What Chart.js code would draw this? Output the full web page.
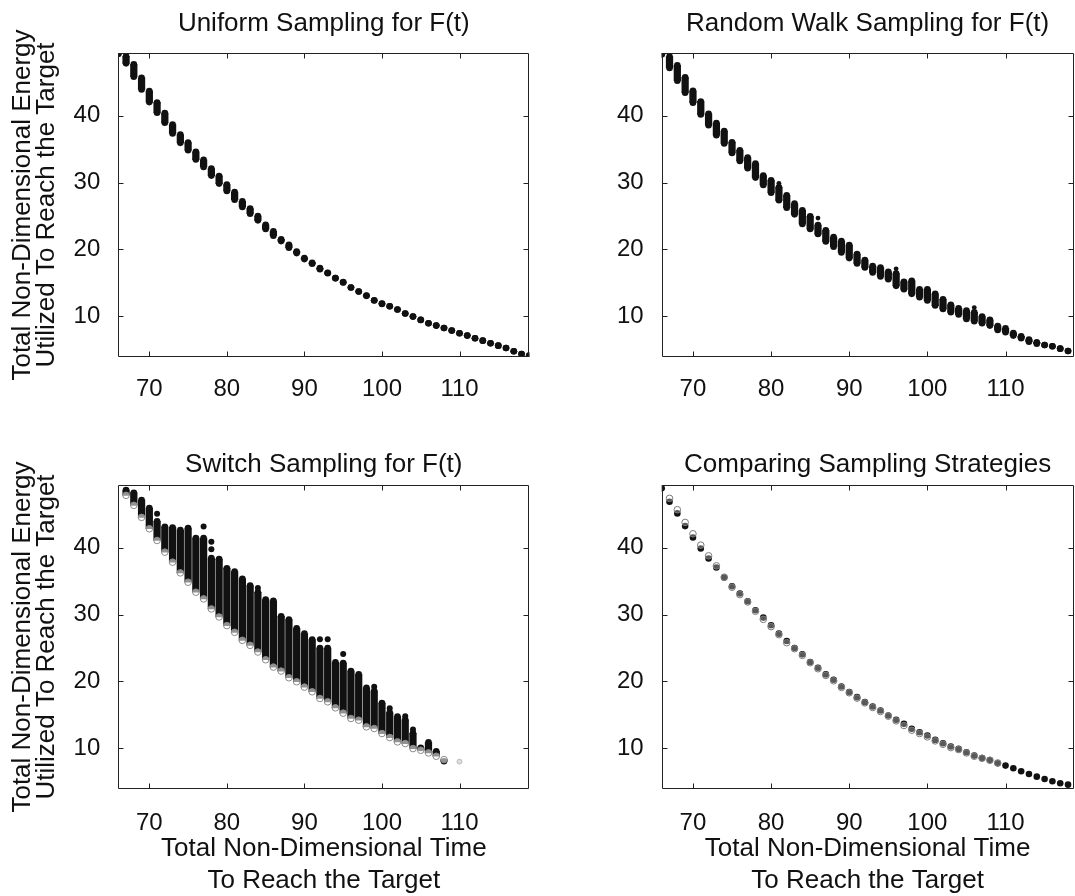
<!DOCTYPE html>
<html lang="en">
<head>
  <meta charset="UTF-8">
  <meta name="viewport" content="width=device-width, initial-scale=1.0">
  <title>Sampling Strategies for F(t)</title>
  <script src="https://cdn.jsdelivr.net/npm/chart.js"></script>
  <style>
    html, body {
      margin: 0;
      padding: 0;
      background: #fff;
      overflow: hidden;
    }
    .panel {
      position: absolute;
    }
  </style>
</head>
<body>
  <div class="panel" style="left:0;top:0"><canvas id="uniformChart" width="545" height="420"></canvas></div>
  <div class="panel" style="left:545px;top:0"><canvas id="randomChart" width="545" height="420"></canvas></div>
  <div class="panel" style="left:0;top:430px"><canvas id="switchChart" width="545" height="468"></canvas></div>
  <div class="panel" style="left:545px;top:430px"><canvas id="compareChart" width="545" height="468"></canvas></div>

  <script>
    // axis ticks (shared by all four panels)
    const timeTicks = [70, 80, 90, 100, 110];
    const energyTicks = [10, 20, 30, 40];

    // Uniform sampling: each time column spans bottom..top energy
    const uniformX = [66, 67, 68, 69, 70, 71, 72, 73, 74, 75, 76, 77, 78, 79, 80, 81, 82, 83, 84, 85, 86, 87, 88, 89, 90,
      91, 92, 93, 94, 95, 96, 97, 98, 99, 100, 101, 102, 103, 104, 105, 106, 107, 108, 109, 110, 111, 112, 113, 114, 115,
      116, 117, 118, 119];
    const uniformTop = [49.3, 48.9, 47.7, 45.7, 43.7, 42.0, 40.4, 38.7, 37.2, 36.0, 34.6, 33.4, 32.1, 31.0, 29.7, 28.6,
      27.2, 26.1, 25.0, 23.7, 22.7, 21.5, 20.7, 19.7, 18.7, 18.0, 17.2, 16.5, 15.7, 15.1, 14.3, 13.7, 13.1, 12.4, 11.9,
      11.5, 11.0, 10.4, 9.95, 9.45, 8.95, 8.6, 8.25, 7.85, 7.45, 7.1, 6.7, 6.35, 5.95, 5.6, 5.25, 4.75, 4.35, 4.1];
    const uniformBottom = [49.3, 47.85, 45.85, 43.95, 42.05, 40.45, 38.95, 37.35, 35.95, 34.85, 33.45, 32.35, 31.05,
      29.85, 28.75, 27.45, 26.35, 25.35, 24.35, 23.05, 22.05, 21.25, 20.25, 19.45, 18.55, 17.85, 17.05, 16.45, 15.7,
      15.05, 14.3, 13.7, 13.05, 12.35, 11.85, 11.5, 11.0, 10.4, 9.95, 9.45, 8.95, 8.6, 8.25, 7.85, 7.45, 7.1, 6.7, 6.35,
      5.95, 5.6, 5.25, 4.75, 4.35, 4.1];

    // Random walk sampling
    const randomX = [66, 67, 68, 69, 70, 71, 72, 73, 74, 75, 76, 77, 78, 79, 80, 81, 82, 83, 84, 85, 86, 87, 88, 89, 90,
      91, 92, 93, 94, 95, 96, 97, 98, 99, 100, 101, 102, 103, 104, 105, 106, 107, 108, 109, 110, 111, 112, 113, 114, 115,
      116, 117, 118];
    const randomTop = [49.2, 48.85, 47.55, 45.75, 43.75, 42.15, 40.3, 38.9, 37.7, 36.05, 34.85, 33.75, 32.85, 31.05,
      30.35, 29.3, 28.1, 26.85, 25.85, 24.95, 23.65, 22.85, 21.85, 21.25, 20.65, 19.3, 18.4, 17.5, 17.3, 16.65, 16.4,
      15.15, 15.3, 14.05, 14.05, 13.35, 12.55, 11.7, 11.2, 10.85, 10.6, 9.95, 9.45, 8.55, 8.2, 7.5, 7.0, 6.5, 6.1, 5.7,
      5.5, 5.15, 4.8];
    const randomBottom = [49.2, 47.15, 45.25, 43.45, 41.95, 40.2, 38.6, 37.1, 35.85, 34.45, 33.25, 32.15, 30.75, 29.65,
      28.5, 27.35, 26.25, 25.25, 23.8, 23.05, 22.3, 21.2, 20.4, 19.55, 18.7, 17.9, 17.3, 16.55, 15.95, 15.55, 14.55,
      14.05, 13.35, 12.85, 12.35, 11.6, 11.1, 10.6, 10.25, 9.6, 9.25, 8.95, 8.6, 7.95, 7.6, 7.1, 6.7, 6.2, 5.9, 5.7, 5.5,
      5.15, 4.8];
    const randomOutX = [81, 86, 96, 106];
    const randomOutY = [29.9, 24.7, 17.1, 11.3];

    // Switch sampling: black column top, grey circle at the bottom
    const switchX = [67, 68, 69, 70, 71, 72, 73, 74, 75, 76, 77, 78, 79, 80, 81, 82, 83, 84, 85, 86, 87, 88, 89, 90, 91,
      92, 93, 94, 95, 96, 97, 98, 99, 100, 101, 102, 103, 104, 105, 106, 107, 108];
    const switchTop = [48.65, 48.25, 47.15, 45.95, 43.95, 43.15, 43.05, 42.65, 42.95, 41.45, 41.45, 38.45, 38.3, 36.95,
      36.45, 35.35, 34.35, 33.35, 32.25, 32.05, 29.75, 29.25, 27.95, 27.15, 26.25, 25.0, 25.0, 22.85, 22.75, 21.55,
      21.05, 19.05, 18.55, 16.75, 15.35, 14.75, 14.25, 12.25, 10.05, 10.9, 9.55, 8.05];
    const switchBottom = [47.85, 46.35, 44.55, 42.85, 41.1, 39.35, 37.85, 36.25, 34.85, 33.35, 32.35, 30.85, 29.65,
      28.35, 27.35, 26.15, 25.4, 24.4, 23.25, 22.15, 21.55, 20.55, 19.95, 19.15, 18.45, 17.45, 16.95, 16.05, 15.25,
      14.45, 14.2, 13.2, 12.95, 12.2, 11.6, 10.95, 10.7, 9.95, 9.7, 9.3, 8.8, 8.3];
    const switchOutX = [71, 77, 78, 78, 84, 92, 93, 95, 99, 101, 103, 104];
    const switchOutY = [45.1, 43.2, 40.9, 39.8, 34.0, 26.3, 26.3, 24.1, 19.2, 16.0, 14.8, 12.8];
    const switchStrayX = [110];
    const switchStrayY = [8.0];

    // Comparison of strategies
    const compareX = [66, 67, 68, 69, 70, 71, 72, 73, 74, 75, 76, 77, 78, 79, 80, 81, 82, 83, 84, 85, 86, 87, 88, 89, 90,
      91, 92, 93, 94, 95, 96, 97, 98, 99, 100, 101, 102, 103, 104, 105, 106, 107, 108, 109, 110, 111, 112, 113, 114, 115,
      116, 117, 118];
    const compareBlack = [48.9, 46.9, 45.15, 43.25, 41.55, 39.9, 38.4, 37.05, 35.55, 34.25, 33.15, 32.0, 30.65, 29.55,
      28.4, 27.15, 26.05, 25.0, 24.05, 22.9, 22.05, 21.05, 20.25, 19.25, 18.4, 17.65, 16.9, 16.25, 15.65, 14.9, 14.25,
      13.65, 12.9, 12.4, 11.9, 11.25, 10.75, 10.25, 9.9, 9.4, 8.9, 8.55, 8.25, 7.75, 7.4, 7.0, 6.55, 6.15, 5.75, 5.4,
      5.05, 4.75, 4.55];
    const compareGrayX = [67, 68, 69, 70, 71, 72, 73, 74, 75, 76, 77, 78, 79, 80, 81, 82, 83, 84, 85, 86, 87, 88, 89, 90,
      91, 92, 93, 94, 95, 96, 97, 98, 99, 100, 101, 102, 103, 104, 105, 106, 107, 108, 109];
    const compareGray = [47.4, 45.7, 43.8, 42.1, 40.4, 38.8, 37.3, 35.6, 34.1, 33.0, 31.9, 30.5, 29.3, 28.2, 27.0, 25.8,
      24.9, 23.9, 22.8, 21.9, 20.9, 20.1, 19.1, 18.3, 17.5, 16.8, 16.1, 15.5, 14.8, 14.1, 13.4, 12.7, 12.2, 11.7, 11.1,
      10.6, 10.1, 9.8, 9.3, 8.8, 8.5, 8.2, 7.8];

    Chart.defaults.font.family = "'Liberation Sans', Arial, Helvetica, sans-serif";
    Chart.defaults.color = '#111';

    const ink = '#111';
    const energyTitle = ['Total Non-Dimensional Energy', 'Utilized To Reach the Target'];
    const timeTitle = ['Total Non-Dimensional Time', 'To Reach the Target'];

    // MATLAB style box with inward ticks on all four sides
    const boxPlugin = {
      id: 'boxPlugin',
      afterDatasetsDraw(chart) {
        const { ctx, chartArea: a, scales: { x, y } } = chart;
        const L = Math.round(a.left) + 0.5, R = Math.round(a.right) - 0.5;
        const T = Math.round(a.top) + 0.5, B = Math.round(a.bottom) - 0.5;
        ctx.save();
        ctx.strokeStyle = '#222';
        ctx.lineWidth = 1;
        ctx.beginPath();
        ctx.rect(L, T, R - L, B - T);
        x.ticks.forEach(t => {
          const px = Math.round(x.getPixelForValue(t.value)) + 0.5;
          ctx.moveTo(px, B); ctx.lineTo(px, B - 5);
          ctx.moveTo(px, T); ctx.lineTo(px, T + 5);
        });
        y.ticks.forEach(t => {
          const py = Math.round(y.getPixelForValue(t.value)) + 0.5;
          ctx.moveTo(L, py); ctx.lineTo(L + 5, py);
          ctx.moveTo(R, py); ctx.lineTo(R - 5, py);
        });
        ctx.stroke();
        ctx.restore();
      }
    };

    function columnBars(xs, lo, hi) {
      return xs.map((x, i) => ({ x: x, y: [lo[i], hi[i]] }));
    }
    function pts(xs, ys) {
      return xs.map((x, i) => ({ x: x, y: ys[i] }));
    }

    function panelOptions(p) {
      return {
        responsive: false,
        animation: false,
        layout: { padding: { left: 0, right: p.padRight, top: 0, bottom: 0 } },
        plugins: {
          legend: { display: false },
          tooltip: { enabled: false },
          title: {
            display: true,
            text: p.title,
            fullSize: false,
            color: ink,
            font: { size: 26, weight: 'normal', lineHeight: 1.2 },
            padding: p.titlePad
          }
        },
        scales: {
          x: {
            type: 'linear',
            min: 66,
            max: p.xMax,
            offset: false,
            grid: { display: false },
            border: { display: false },
            afterBuildTicks: s => { s.ticks = timeTicks.map(v => ({ value: v })); },
            afterFit: s => { s.height = p.xAxisHeight; },
            ticks: { color: ink, font: { size: 24 }, padding: p.xTickPad, maxRotation: 0, autoSkip: false },
            title: {
              display: p.showTimeTitle,
              text: timeTitle,
              color: ink,
              font: { size: 26, lineHeight: 1.23 },
              padding: { top: 0, bottom: 1 }
            }
          },
          y: {
            type: 'linear',
            min: 3.9,
            max: 49.4,
            grid: { display: false },
            border: { display: false },
            afterBuildTicks: s => { s.ticks = energyTicks.map(v => ({ value: v })); },
            afterFit: s => { s.width = p.yAxisWidth; },
            ticks: { color: ink, font: { size: 24 }, padding: 10 },
            title: {
              display: p.showEnergyTitle,
              text: energyTitle,
              color: ink,
              font: { size: 26, lineHeight: 0.9 },
              padding: { top: 11.3, bottom: 0 }
            }
          }
        }
      };
    }

    const dotR = 3.3;
    const barW = 6.6;

    new Chart(document.getElementById('uniformChart'), {
      type: 'bar',
      data: {
        datasets: [
          { data: columnBars(uniformX, uniformBottom, uniformTop), backgroundColor: ink, barThickness: barW, order: 3 },
          { type: 'scatter', data: pts(uniformX, uniformTop), pointRadius: dotR, backgroundColor: ink, borderWidth: 0, order: 2 },
          { type: 'scatter', data: pts(uniformX, uniformBottom), pointRadius: dotR, backgroundColor: ink, borderWidth: 0, order: 1 }
        ]
      },
      options: panelOptions({ title: 'Uniform Sampling for F(t)', padRight: 15.7, yAxisWidth: 118.3, xMax: 119,
        xAxisHeight: 63, xTickPad: 10, titlePad: { top: 8.4, bottom: 13.4 }, showTimeTitle: false, showEnergyTitle: true }),
      plugins: [boxPlugin]
    });

    new Chart(document.getElementById('randomChart'), {
      type: 'bar',
      data: {
        datasets: [
          { data: columnBars(randomX, randomBottom, randomTop), backgroundColor: ink, barThickness: barW, order: 4 },
          { type: 'scatter', data: pts(randomX, randomTop), pointRadius: dotR, backgroundColor: ink, borderWidth: 0, order: 3 },
          { type: 'scatter', data: pts(randomX, randomBottom), pointRadius: dotR, backgroundColor: ink, borderWidth: 0, order: 2 },
          { type: 'scatter', data: pts(randomOutX, randomOutY), pointRadius: 2.4, backgroundColor: ink, borderWidth: 0, order: 1 }
        ]
      },
      options: panelOptions({ title: 'Random Walk Sampling for F(t)', padRight: 16.5, yAxisWidth: 116.7, xMax: 118.7,
        xAxisHeight: 63, xTickPad: 10, titlePad: { top: 8.4, bottom: 13.4 }, showTimeTitle: false, showEnergyTitle: false }),
      plugins: [boxPlugin]
    });

    new Chart(document.getElementById('switchChart'), {
      type: 'bar',
      data: {
        datasets: [
          { data: columnBars(switchX, switchBottom, switchTop), backgroundColor: ink, barThickness: barW, order: 5 },
          { type: 'scatter', data: pts(switchX, switchTop), pointRadius: dotR, backgroundColor: ink, borderWidth: 0, order: 4 },
          { type: 'scatter', data: pts(switchOutX, switchOutY), pointRadius: 3, backgroundColor: ink, borderWidth: 0, order: 3 },
          { type: 'scatter', data: pts(switchX, switchBottom), pointRadius: dotR, backgroundColor: 'rgba(255,255,255,0.55)', borderColor: '#8a8a8a', borderWidth: 1, order: 2 },
          { type: 'scatter', data: pts(switchStrayX, switchStrayY), pointRadius: 2.5, backgroundColor: '#ddd', borderColor: '#bbb', borderWidth: 1, order: 1 }
        ]
      },
      options: panelOptions({ title: 'Switch Sampling for F(t)', padRight: 15.7, yAxisWidth: 118.3, xMax: 119,
        xAxisHeight: 109, xTickPad: 12, titlePad: { top: 19.4, bottom: 4.4 }, showTimeTitle: true, showEnergyTitle: true }),
      plugins: [boxPlugin]
    });

    new Chart(document.getElementById('compareChart'), {
      type: 'scatter',
      data: {
        datasets: [
          { data: pts(compareX, compareBlack), pointRadius: dotR, backgroundColor: ink, borderWidth: 0, order: 2 },
          { data: pts(compareGrayX, compareGray), pointRadius: dotR, backgroundColor: 'rgba(255,255,255,0.3)', borderColor: '#7a7a7a', borderWidth: 1, order: 1 }
        ]
      },
      options: panelOptions({ title: 'Comparing Sampling Strategies', padRight: 16.5, yAxisWidth: 116.7, xMax: 118.7,
        xAxisHeight: 109, xTickPad: 12, titlePad: { top: 19.4, bottom: 4.4 }, showTimeTitle: true, showEnergyTitle: false }),
      plugins: [boxPlugin]
    });
  </script>
</body>
</html>
